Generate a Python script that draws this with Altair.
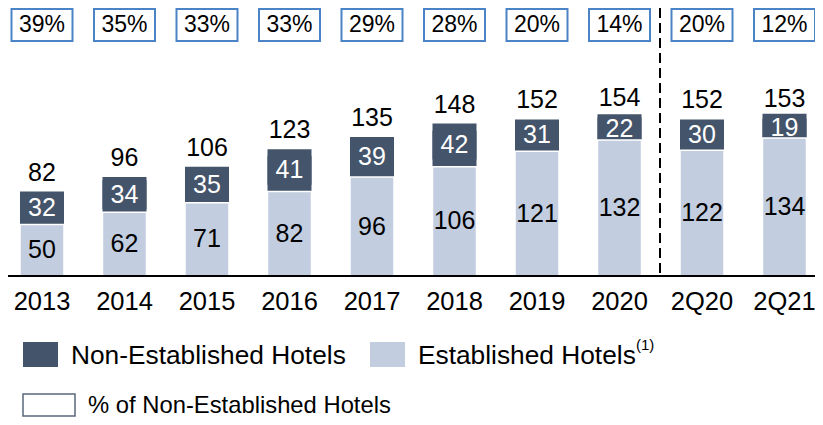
import altair as alt
import pandas as pd

categories = ["2013", "2014", "2015", "2016", "2017", "2018", "2019", "2020", "2Q20", "2Q21"]
established = [50, 62, 71, 82, 96, 106, 121, 132, 122, 134]
non_established = [32, 34, 35, 41, 39, 42, 31, 22, 30, 19]
totals = [82, 96, 106, 123, 135, 148, 152, 154, 152, 153]
pct_labels = ["39%", "35%", "33%", "33%", "29%", "28%", "20%", "14%", "20%", "12%"]
legend_labels = ["Non-Established Hotels", "Established Hotels", "(1)", "% of Non-Established Hotels"]

DARK = "#44546A"
LIGHT = "#C2CDDF"
BOX = "#4A84C6"
FONT = "Liberation Sans"

df = pd.DataFrame({
    "cat": categories,
    "est": established,
    "non": non_established,
    "total": totals,
    "pct": pct_labels,
})

xs = alt.Scale(domain=categories, range=[-7.25, 817.75], paddingInner=0.4667,
               paddingOuter=0.2333, round=False)
ys = alt.Scale(domain=[0, 260], range=[268, 0.2])
X = alt.X("cat:N", scale=xs, axis=None, sort=categories)

base = alt.Chart(df)

# label backing box for the dark segment (only visible where the segment is thin)
lbl_back = base.transform_calculate(
    lo="datum.est + datum.non / 2 - 14", hi="datum.est + datum.non / 2 + 14"
).mark_bar(color=DARK).encode(
    x=X, y=alt.Y("lo:Q", scale=ys, axis=None), y2="hi:Q"
)
non_bar = base.mark_bar(color=DARK).encode(
    x=X, y=alt.Y("est:Q", scale=ys, axis=None), y2="total:Q"
)
est_bar = base.mark_bar(color=LIGHT, stroke="white", strokeWidth=1.5).encode(
    x=X, y=alt.Y("est:Q", scale=ys, axis=None)
)
est_lbl = base.transform_calculate(mid="datum.est / 2").mark_text(
    font=FONT, fontSize=25, color="black", baseline="middle"
).encode(x=X, y=alt.Y("mid:Q", scale=ys, axis=None), text="est:Q")
non_lbl = base.transform_calculate(mid="datum.est + datum.non / 2").mark_text(
    font=FONT, fontSize=25, color="white", baseline="middle"
).encode(x=X, y=alt.Y("mid:Q", scale=ys, axis=None), text="non:Q")
tot_lbl = base.mark_text(
    font=FONT, fontSize=25, color="black", baseline="alphabetic", dy=-11
).encode(x=X, y=alt.Y("total:Q", scale=ys, axis=None), text="total:Q")
cat_lbl = base.mark_text(
    font=FONT, fontSize=25.5, color="black", baseline="middle"
).encode(x=X, y=alt.value(294), text="cat:N")
pct_box = base.mark_bar(width=61, fill="white", stroke=BOX, strokeWidth=2).encode(
    x=X, y=alt.value(1), y2=alt.value(33)
)
pct_lbl = base.mark_text(
    font=FONT, fontSize=23, color="black", baseline="middle"
).encode(x=X, y=alt.value(17), text="pct:N")

one = alt.Data(values=[{"a": 1}])
divider = alt.Chart(one).mark_rule(color="black", strokeWidth=2, strokeDash=[10, 5]).encode(
    x=alt.value(652), y=alt.value(0), y2=alt.value(268)
)
axis_line = alt.Chart(one).mark_rule(color="black", strokeWidth=2).encode(
    x=alt.value(0), x2=alt.value(807), y=alt.value(268)
)

def leg_text(label, x, y, size):
    d = pd.DataFrame({"label": [label]})
    return alt.Chart(d).mark_text(
        font=FONT, fontSize=size, color="black", align="left", baseline="middle"
    ).encode(x=alt.value(x), y=alt.value(y), text="label:N")

leg_dark = alt.Chart(one).mark_rect(color=DARK).encode(
    x=alt.value(15), x2=alt.value(50), y=alt.value(334), y2=alt.value(359)
)
leg_light = alt.Chart(one).mark_rect(color=LIGHT).encode(
    x=alt.value(362), x2=alt.value(397), y=alt.value(334), y2=alt.value(359)
)
leg_box = alt.Chart(one).mark_rect(fill="white", stroke="#5A687C", strokeWidth=1.5).encode(
    x=alt.value(15), x2=alt.value(67), y=alt.value(386), y2=alt.value(408)
)

chart = alt.layer(
    lbl_back, non_bar, est_bar, est_lbl, non_lbl, tot_lbl, cat_lbl, pct_box, pct_lbl,
    divider, axis_line,
    leg_dark, leg_text(legend_labels[0], 63, 348, 26.3),
    leg_light, leg_text(legend_labels[1], 410, 348, 26.3),
    leg_text(legend_labels[2], 628, 337, 15),
    leg_box, leg_text(legend_labels[3], 80, 398, 23.8),
).properties(
    width=807, height=409, padding=0, autosize="none"
).configure_view(stroke=None)

chart.save("out.html", embed_options={"renderer": "svg", "actions": False})
